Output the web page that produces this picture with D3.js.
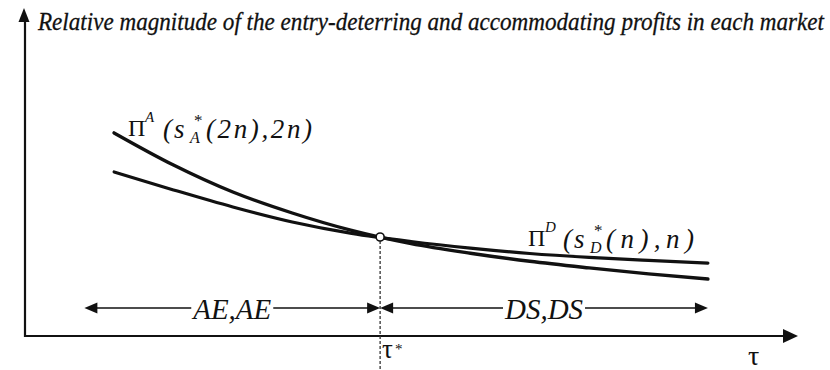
<!DOCTYPE html>
<html>
<head>
<meta charset="utf-8">
<script src="https://cdn.jsdelivr.net/npm/d3@7/dist/d3.min.js"></script>
<style>
  html, body { margin: 0; padding: 0; background: #fff; }
  svg { display: block; }
  text { fill: #111; font-family: "Liberation Serif", "Times New Roman", serif; }
</style>
</head>
<body>
<svg id="chart" width="830" height="370"></svg>
<script>
// Transport cost tau (arbitrary units) along the horizontal axis
const tau = [0, 1, 2, 3, 4, 5, 6, 7, 8, 9, 10];
// Accommodating profit  Π^A(s*_A(2n),2n)
const profitA = [6.77, 5.70, 4.80, 4.10, 3.52, 3.08, 2.76, 2.49, 2.27, 2.07, 1.90];
// Entry-deterring profit  Π^D(s*_D(n),n)
const profitD = [5.47, 4.87, 4.30, 3.80, 3.42, 3.15, 2.93, 2.75, 2.62, 2.52, 2.43];
// Threshold tau* where the two profits coincide
const tauStar = 4.48;
const profitStar = 3.30;
// Equilibrium regions on either side of tau*
const regionLabels = ["AE,AE", "DS,DS"];
const regionBounds = [[-0.5, tauStar], [tauStar, 10]];

const svg = d3.select("#chart");
const ink = "#111";

const x = d3.scaleLinear().domain([-1.5, 11.5]).range([25, 797]);
const y = d3.scaleLinear().domain([0, 11]).range([336, 6]);

// arrowhead helper: tip at (tx,ty), pointing right (+1), left (-1) or "up"
function arrowHead(tx, ty, dir, len, half) {
  let d;
  if (dir === "up") d = `M${tx},${ty} L${tx - half},${ty + len} L${tx + half},${ty + len} Z`;
  else d = `M${tx},${ty} L${tx - dir * len},${ty - half} L${tx - dir * len},${ty + half} Z`;
  svg.append("path").attr("d", d).attr("fill", ink);
}

// Axes
const x0 = x(-1.5), yBase = y(0);
svg.append("line").attr("x1", x0).attr("x2", x0).attr("y1", yBase + 1).attr("y2", 16)
  .attr("stroke", ink).attr("stroke-width", 2.2);
arrowHead(x0 - 1, 8, "up", 14, 5.5);
svg.append("line").attr("x1", x0 - 1).attr("x2", 786).attr("y1", yBase).attr("y2", yBase)
  .attr("stroke", ink).attr("stroke-width", 2.2);
arrowHead(798, yBase, 1, 15, 7);

// Axis titles
svg.append("text").attr("transform", "translate(38,30) scale(1,1.12)")
  .attr("font-style", "italic").attr("font-size", 22)
  .attr("stroke", ink).attr("stroke-width", 0.25)
  .attr("textLength", 786).attr("lengthAdjust", "spacingAndGlyphs")
  .text("Relative magnitude of the entry-deterring and accommodating profits in each market");
svg.append("text").attr("x", 748).attr("y", 365).attr("font-size", 28).text("τ");

// Profit curves
const line = d3.line().x((d, i) => x(tau[i])).y(d => y(d)).curve(d3.curveMonotoneX);
svg.append("path").datum(profitA).attr("d", line)
  .attr("fill", "none").attr("stroke", ink).attr("stroke-width", 3.4).attr("stroke-linecap", "round");
svg.append("path").datum(profitD).attr("d", line)
  .attr("fill", "none").attr("stroke", ink).attr("stroke-width", 3.1).attr("stroke-linecap", "round");

// Threshold marker and dashed guide
svg.append("line").attr("x1", x(tauStar)).attr("x2", x(tauStar))
  .attr("y1", y(profitStar) + 4).attr("y2", 370)
  .attr("stroke", "#333").attr("stroke-width", 1.3).attr("stroke-dasharray", "3,2");
svg.append("circle").attr("cx", x(tauStar)).attr("cy", y(profitStar)).attr("r", 4)
  .attr("fill", "#fff").attr("stroke", ink).attr("stroke-width", 1.6);
svg.append("text").attr("x", x(tauStar) + 2).attr("y", 358).attr("font-size", 27).text("τ");
svg.append("text").attr("x", x(tauStar) + 15).attr("y", 354).attr("font-size", 15).text("*");

// Region arrows with labels
const rowY = 308;
regionLabels.forEach((lab, i) => {
  const [a, b] = regionBounds[i];
  const xa = x(a), xb = x(b);
  const cx = (xa + xb) / 2;
  const tw = 78;
  svg.append("text").attr("x", cx).attr("y", rowY + 11).attr("text-anchor", "middle")
    .attr("font-style", "italic").attr("font-size", 30)
    .attr("textLength", tw).attr("lengthAdjust", "spacingAndGlyphs").text(lab);
  svg.append("line").attr("x1", xa + 10).attr("x2", cx - tw / 2 - 2).attr("y1", rowY).attr("y2", rowY)
    .attr("stroke", ink).attr("stroke-width", 1.4);
  svg.append("line").attr("x1", cx + tw / 2 + 2).attr("x2", xb - 10).attr("y1", rowY).attr("y2", rowY)
    .attr("stroke", ink).attr("stroke-width", 1.4);
  arrowHead(xa, rowY, -1, 13, 5.5);
  arrowHead(xb, rowY, 1, 13, 5.5);
});

// Curve labels: Π^X(s*_X(...),...)
function piLabel(ox, oy, letter, tail, tailW) {
  const g = svg.append("g").attr("transform", `translate(${ox},${oy})`);
  const it = (sel) => sel.attr("font-style", "italic");
  g.append("text").attr("x", 0).attr("y", -2).attr("font-size", 24).text("Π");
  it(g.append("text").attr("x", 17).attr("y", -16).attr("font-size", 15)).text(letter);
  it(g.append("text").attr("x", 35).attr("y", 0).attr("font-size", 27)).text("(");
  it(g.append("text").attr("x", 46).attr("y", 0).attr("font-size", 27)).text("s");
  g.append("text").attr("x", 66).attr("y", -12).attr("font-size", 17).text("*");
  it(g.append("text").attr("x", 62).attr("y", 5).attr("font-size", 16)).text(letter);
  it(g.append("text").attr("x", 78).attr("y", 0).attr("font-size", 27))
    .attr("textLength", tailW).attr("lengthAdjust", "spacing").text(tail);
}
piLabel(128, 138, "A", "(2n),2n)", 106);
piLabel(528, 248, "D", "(n),n)", 88);
</script>
</body>
</html>
